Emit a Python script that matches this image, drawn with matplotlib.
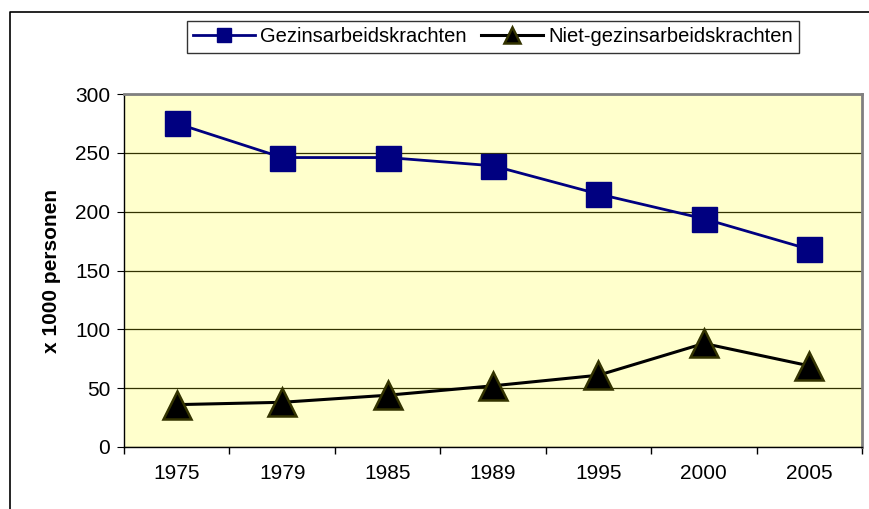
import numpy as np
import matplotlib.pyplot as plt
from matplotlib.lines import Line2D

years = ['1975', '1979', '1985', '1989', '1995', '2000', '2005']
gezins = [275, 246, 246, 239, 215, 194, 168]
niet_gezins = [36, 38, 44, 52, 61, 88, 69]

plt.rcParams['font.family'] = ['Liberation Sans', 'DejaVu Sans']

fig = plt.figure(figsize=(8.7, 5.09), dpi=100)
ax = fig.add_axes([124 / 870, 1 - 447 / 509, 738 / 870, 353 / 509])
ax.set_facecolor('#FFFFCC')

x = np.arange(len(years))
ax.plot(x, gezins, color='#000080', lw=2, marker='s', ms=18,
        mfc='#000080', mec='#000080', label='Gezinsarbeidskrachten', zorder=3)
ax.plot(x, niet_gezins, color='black', lw=2.2, marker='^', ms=20,
        mfc='black', mec='#333300', mew=1.8, label='Niet-gezinsarbeidskrachten', zorder=3)

ax.set_xlim(-0.5, len(years) - 0.5)
ax.set_ylim(0, 300)
ax.set_yticks(range(0, 301, 50))
ax.yaxis.grid(True, color='#333300', lw=0.9)
ax.set_axisbelow(True)

ax.set_xticks(np.arange(-0.5, len(years), 1.0))
ax.set_xticklabels([])
ax.set_xticks(x, minor=True)
ax.set_xticklabels(years, minor=True)
ax.tick_params(axis='x', which='minor', length=0, pad=12, labelsize=15)
ax.tick_params(axis='x', which='major', length=5, direction='out', width=1)
ax.tick_params(axis='y', length=5, direction='out', labelsize=15, pad=5)

for s in ['top', 'right']:
    ax.spines[s].set_color('#808080')
    ax.spines[s].set_linewidth(2)
for s in ['left', 'bottom']:
    ax.spines[s].set_color('black')
    ax.spines[s].set_linewidth(1)

ax.set_ylabel('x 1000 personen', fontsize=15, fontweight='bold', labelpad=10)

leg = fig.legend(loc='center', bbox_to_anchor=(493 / 870, 1 - 37 / 509), ncol=2,
                 fontsize=14.5, frameon=True, fancybox=False, markerscale=0.55,
                 handlelength=3.1, columnspacing=0.7, handletextpad=0.25,
                 borderpad=0.3, borderaxespad=0)
leg.get_frame().set_edgecolor('black')
leg.get_frame().set_linewidth(1)

# outer chart border (only top-left visible in the crop)
fig.add_artist(Line2D([10 / 870, 10 / 870, 1.0], [0.0, 1 - 12 / 509, 1 - 12 / 509],
                      color='black', lw=1.2, transform=fig.transFigure))

plt.savefig('out.png', dpi=100)
